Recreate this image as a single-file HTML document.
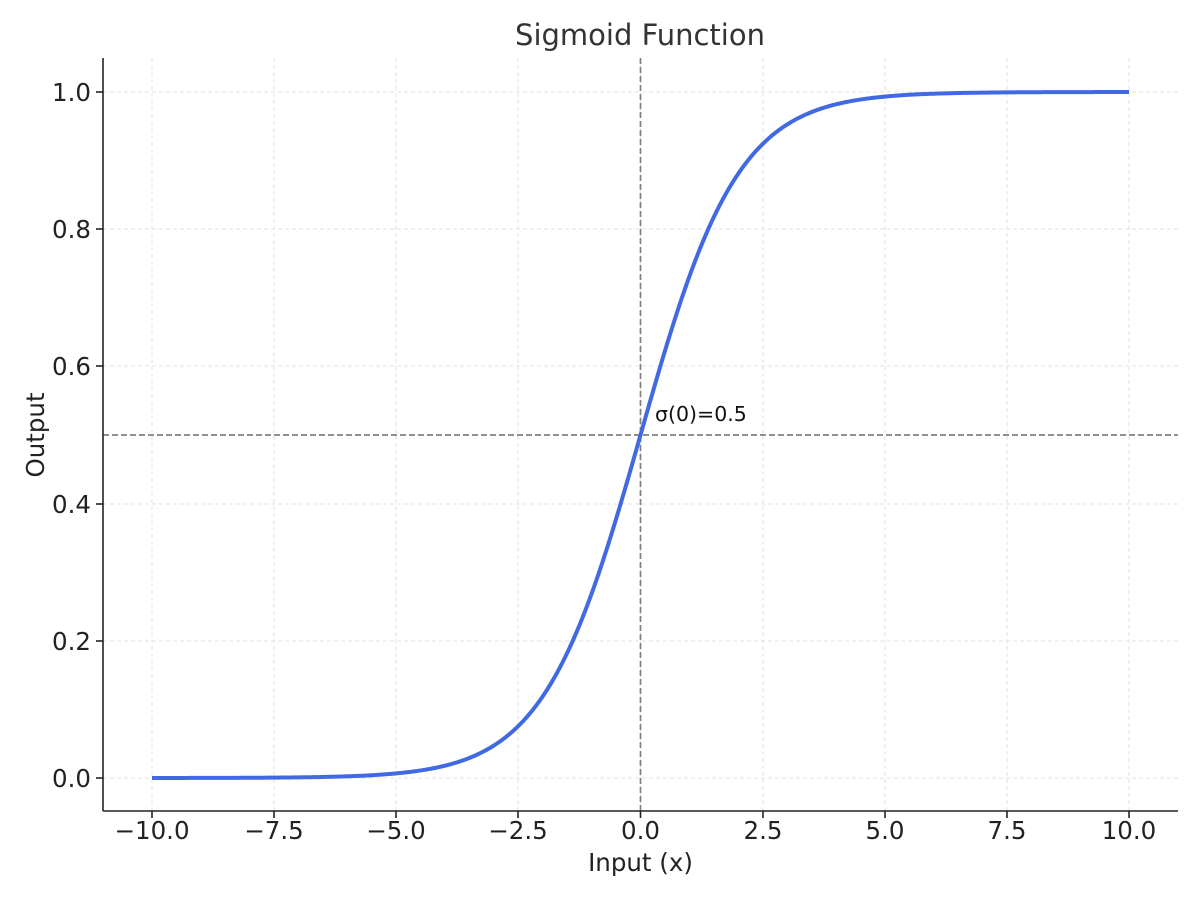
<!DOCTYPE html>
<html><head><meta charset="utf-8"><style>
html,body{margin:0;padding:0;background:#fff;}
svg{display:block;font-family:"DejaVu Sans","Liberation Sans",sans-serif;}
</style></head><body>
<svg width="1200" height="900" viewBox="0 0 1200 900" xmlns="http://www.w3.org/2000/svg">
<g stroke="#e2e2e2" stroke-width="1" stroke-dasharray="4,3">
<line x1="152" y1="58" x2="152" y2="811"/><line x1="274" y1="58" x2="274" y2="811"/>
<line x1="396" y1="58" x2="396" y2="811"/><line x1="518" y1="58" x2="518" y2="811"/>
<line x1="640.5" y1="58" x2="640.5" y2="811"/><line x1="763" y1="58" x2="763" y2="811"/>
<line x1="885" y1="58" x2="885" y2="811"/><line x1="1007" y1="58" x2="1007" y2="811"/>
<line x1="1129" y1="58" x2="1129" y2="811"/>
<line x1="103" y1="778" x2="1178" y2="778"/><line x1="103" y1="641" x2="1178" y2="641"/>
<line x1="103" y1="504" x2="1178" y2="504"/><line x1="103" y1="366" x2="1178" y2="366"/>
<line x1="103" y1="229" x2="1178" y2="229"/><line x1="103" y1="92" x2="1178" y2="92"/>
</g>
<g stroke="#808080" stroke-width="1.7" stroke-dasharray="6,3">
<line x1="103" y1="435" x2="1178" y2="435"/>
<line x1="640.5" y1="58" x2="640.5" y2="811"/>
</g>
<path id="curve" d="" fill="none" stroke="#4169e1" stroke-width="4" stroke-linejoin="round"/>
<script>
(function(){var d="";for(var i=0;i<=400;i++){var x=-10+i*0.05;var s=1/(1+Math.exp(-x));var px=640.5+x*48.85;var py=778-s*686;d+=(i?"L":"M")+px.toFixed(2)+","+py.toFixed(2);}document.getElementById("curve").setAttribute("d",d);})();
</script>
<g stroke="#222" stroke-width="1.6" fill="none">
<line x1="103" y1="58" x2="103" y2="811"/>
<line x1="103" y1="811" x2="1178" y2="811"/>
<line x1="152" y1="811" x2="152" y2="818"/><line x1="274" y1="811" x2="274" y2="818"/>
<line x1="396" y1="811" x2="396" y2="818"/><line x1="518" y1="811" x2="518" y2="818"/>
<line x1="640.5" y1="811" x2="640.5" y2="818"/><line x1="763" y1="811" x2="763" y2="818"/>
<line x1="885" y1="811" x2="885" y2="818"/><line x1="1007" y1="811" x2="1007" y2="818"/>
<line x1="1129" y1="811" x2="1129" y2="818"/>
<line x1="96" y1="778" x2="103" y2="778"/><line x1="96" y1="641" x2="103" y2="641"/>
<line x1="96" y1="504" x2="103" y2="504"/><line x1="96" y1="366" x2="103" y2="366"/>
<line x1="96" y1="229" x2="103" y2="229"/><line x1="96" y1="92" x2="103" y2="92"/>
</g>
<g fill="#222" font-size="24.5" text-anchor="middle">
<text x="152" y="839">−10.0</text><text x="274" y="839">−7.5</text>
<text x="396" y="839">−5.0</text><text x="518" y="839">−2.5</text>
<text x="640.5" y="839">0.0</text><text x="763" y="839">2.5</text>
<text x="885" y="839">5.0</text><text x="1007" y="839">7.5</text>
<text x="1129" y="839">10.0</text>
</g>
<g fill="#222" font-size="24.5" text-anchor="end">
<text x="91" y="787">0.0</text><text x="91" y="650">0.2</text>
<text x="91" y="513">0.4</text><text x="91" y="375">0.6</text>
<text x="91" y="238">0.8</text><text x="91" y="101">1.0</text>
</g>
<text x="640.5" y="871" font-size="24.5" fill="#222" text-anchor="middle">Input (x)</text>
<text transform="translate(44,435) rotate(-90)" font-size="24.5" fill="#222" text-anchor="middle">Output</text>
<text x="640" y="45" font-size="29" fill="#333" text-anchor="middle">Sigmoid Function</text>
<text x="655" y="421" font-size="20.5" fill="#111">σ(0)=0.5</text>
</svg>
</body></html>
